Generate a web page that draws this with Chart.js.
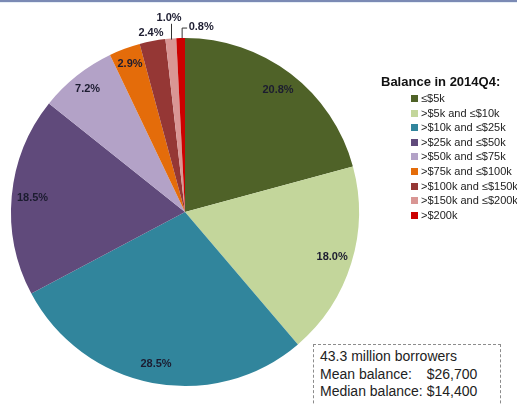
<!DOCTYPE html>
<html>
<head>
<meta charset="utf-8">
<script src="https://cdn.jsdelivr.net/npm/chart.js@4/dist/chart.umd.min.js"></script>
<style>
  html, body { margin: 0; padding: 0; background: #fff; }
  #wrap { position: relative; width: 517px; height: 404px; overflow: hidden; }
  #topbar { position: absolute; left: 0; top: 0; width: 517px; height: 2px; background: #7b8ab4; border-bottom: 1px solid #e6eef6; }
  #legend {
    position: absolute; left: 381px; top: 73px; width: 140px;
    font-family: Arial, "Liberation Sans", sans-serif; color: #222;
  }
  #legend .title { font-weight: bold; font-size: 13px; color: #111; height: 18px; line-height: 18px; margin-bottom: 0px; }
  #legend .item { position: relative; padding-left: 40px; font-size: 11px; height: 14.6px; line-height: 14.6px; white-space: nowrap; }
  #legend .sw { position: absolute; left: 30px; top: 4px; width: 7px; height: 7px; }
  #note {
    position: absolute; left: 313px; top: 344px; width: 180px; height: 80px;
    border: 1.5px dashed #8c8c8c; background: #fff;
    font-family: Arial, "Liberation Sans", sans-serif; font-size: 14px; color: #222;
    padding: 3px 0 0 6px; line-height: 17.5px;
  }
  #note .inner { display: inline-block; }
  #note .row { display: flex; justify-content: space-between; white-space: pre; }
</style>
</head>
<body>
<div id="wrap">
  <canvas id="pie" width="517" height="404"></canvas>
  <div id="topbar"></div>
  <div id="legend"></div>
  <div id="note"><div class="inner">
    <div class="row"><span>43.3 million borrowers</span></div>
    <div class="row"><span>Mean balance:</span><span>$26,700</span></div>
    <div class="row"><span>Median balance: </span><span>$14,400</span></div>
  </div></div>
</div>
<script>
const categories = ["\u2264$5k", ">$5k and \u2264$10k", ">$10k and \u2264$25k", ">$25k and \u2264$50k",
  ">$50k and \u2264$75k", ">$75k and \u2264$100k", ">$100k and \u2264$150k", ">$150k and \u2264$200k", ">$200k"];
const shares = [20.8, 18.0, 28.5, 18.5, 7.2, 2.9, 2.4, 1.0, 0.8];
const colors = ["#4f6228", "#c3d69b", "#31859c", "#604a7b", "#b3a2c7", "#e46c0a", "#953735", "#d99694", "#cc0000"];
const legendTitle = "Balance in 2014Q4:";

// where each % label sits, as a fraction of the radius (and leader style for the thin slices)
const labelPos = [
  { r: 0.88 }, { r: 0.885 }, { r: 0.89 }, { r: 0.88 }, { r: 0.9 },
  { r: 0.91 }, { r: 1.045 }, { r: 1.12, leader: "straight" }, { r: 1.0, leader: "elbow" }
];

const sliceLabels = {
  id: "sliceLabels",
  afterDatasetsDraw(chart) {
    const ctx = chart.ctx;
    const arcs = chart.getDatasetMeta(0).data;
    ctx.save();
    ctx.font = "bold 11px Arial, 'Liberation Sans', sans-serif";
    ctx.fillStyle = "#1c1c30";
    ctx.strokeStyle = "#333";
    ctx.lineWidth = 1;
    ctx.textBaseline = "middle";
    arcs.forEach((arc, i) => {
      const p = arc.getProps(["x", "y", "startAngle", "endAngle", "outerRadius"], true);
      const mid = (p.startAngle + p.endAngle) / 2;
      const cfg = labelPos[i];
      const txt = shares[i].toFixed(1) + "%";
      const ex = p.x + Math.cos(mid) * p.outerRadius;
      const ey = p.y + Math.sin(mid) * p.outerRadius;
      if (cfg.leader === "elbow") {
        ctx.beginPath();
        ctx.moveTo(ex + 1.5, ey);
        ctx.lineTo(ex + 1.5, ey - 10);
        ctx.lineTo(ex + 6.5, ey - 10);
        ctx.stroke();
        ctx.textAlign = "left";
        ctx.fillText(txt, ex + 8, ey - 11);
        return;
      }
      const lx = p.x + Math.cos(mid) * p.outerRadius * cfg.r;
      const ly = p.y + Math.sin(mid) * p.outerRadius * cfg.r;
      if (cfg.leader === "straight") {
        ctx.beginPath();
        ctx.moveTo(Math.round(ex) + 0.5, ey + 1);
        ctx.lineTo(Math.round(ex) + 0.5, ly + 6);
        ctx.stroke();
      }
      ctx.textAlign = "center";
      ctx.fillText(txt, lx, ly);
    });
    ctx.restore();
  }
};

// legend built from the same arrays
const legendEl = document.getElementById("legend");
const t = document.createElement("div");
t.className = "title";
t.textContent = legendTitle;
legendEl.appendChild(t);
categories.forEach((lab, i) => {
  const row = document.createElement("div");
  row.className = "item";
  const sw = document.createElement("span");
  sw.className = "sw";
  sw.style.background = colors[i];
  row.appendChild(sw);
  row.appendChild(document.createTextNode(lab));
  legendEl.appendChild(row);
});

new Chart(document.getElementById("pie").getContext("2d"), {
  type: "pie",
  data: {
    labels: categories,
    datasets: [{ data: shares, backgroundColor: colors, borderWidth: 0 }]
  },
  options: {
    responsive: false,
    animation: false,
    layout: { padding: { left: 11, top: 38, right: 158, bottom: 18 } },
    plugins: { legend: { display: false }, tooltip: { enabled: false } }
  },
  plugins: [sliceLabels]
});
</script>
</body>
</html>
